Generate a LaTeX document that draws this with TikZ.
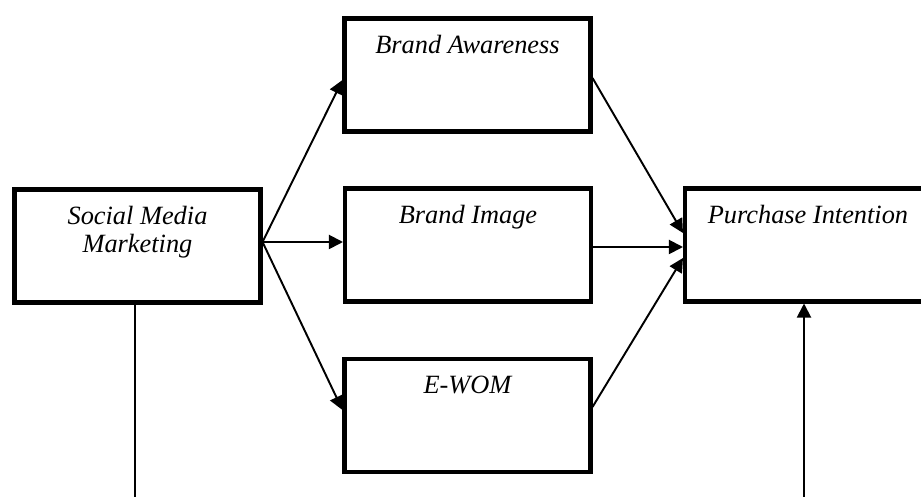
\documentclass[tikz,border=0pt]{standalone}
\usepackage{fontspec}
\setmainfont{Liberation Serif}
\usetikzlibrary{arrows.meta}
\begin{document}
\begin{tikzpicture}[>={Triangle[length=.28cm,width=.28cm]},every node/.style={font=\fontsize{15}{16}\selectfont\itshape},line width=1.1pt,
factor/.style={draw,line width=2.3pt,minimum width=4.92cm,minimum height=2.26cm,inner sep=0pt},
title/.style={anchor=north,inner sep=0pt,yshift=-.36cm,align=center}]
\useasboundingbox (0,0) rectangle (18.42,9.94);
\node[factor,label={[title]north:Social Media\\Marketing}] (smm) at (2.75,5.02) {};
\node[factor,label={[title]north:Brand Awareness}] (ba) at (9.35,8.44) {};
\node[factor,label={[title]north:Brand Image}] (bi) at (9.36,5.04) {};
\node[factor,label={[title]north:E-WOM}] (ewom) at (9.35,1.63) {};
\node[factor,label={[title]north:Purchase Intention}] (pi) at (16.16,5.04) {};
\draw[->] ([yshift=.08cm]smm.east)--([yshift=-.1cm]ba.west);
\draw[->] ([yshift=.08cm]smm.east)--([yshift=.06cm]bi.west);
\draw[->] ([yshift=.08cm]smm.east)--([yshift=.11cm]ewom.west);
\draw[->] ([yshift=-.06cm]ba.east)--([yshift=.24cm]pi.west);
\draw[->] ([yshift=-.04cm]bi.east)--([yshift=-.04cm]pi.west);
\draw[->] ([yshift=.17cm]ewom.east)--([yshift=-.26cm]pi.west);
\coordinate (smmfoot) at (2.7,0);
\coordinate (pifoot) at (16.08,0);
\draw[] (smmfoot |- smm.south)--(smmfoot);
\draw[->] (pifoot)--(pifoot |- pi.south);
\end{tikzpicture}
\end{document}
